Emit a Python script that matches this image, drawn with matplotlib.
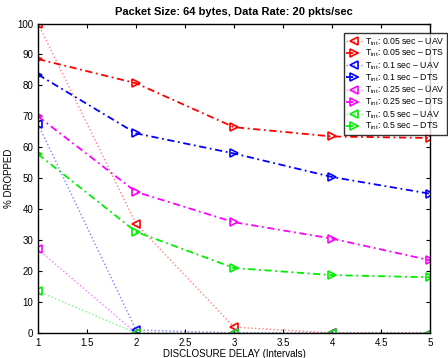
import matplotlib
matplotlib.use("Agg")
import matplotlib.pyplot as plt

plt.rcParams['font.family'] = ['Liberation Sans', 'DejaVu Sans']
plt.rcParams['mathtext.fontset'] = 'custom'
plt.rcParams['mathtext.rm'] = 'Liberation Sans'

delay = [1, 2, 3, 4, 5]
tint = ["0.05", "0.1", "0.25", "0.5"]
colors = ["#ff0000", "#0000ff", "#ff00ff", "#00ee00"]
uav = [
    [100, 35.3, 1.9, 0, 0],
    [67.5, 1.0, 0, 0, 0],
    [27, 0, 0, 0, 0],
    [13.5, 0, 0, 0, 0],
]
dts = [
    [88.5, 80.7, 66.5, 63.5, 63],
    [83.5, 64.5, 58, 50.4, 45],
    [70, 45.6, 35.8, 30.5, 23.5],
    [57.8, 32.7, 21, 18.7, 18],
]

fig = plt.figure(figsize=(4.48, 3.58), dpi=100)
ax = fig.add_axes([38/448, 1-333/358, (430-38)/448, (333-23.5)/358])

handles = []
labels = []
for i in range(4):
    l, = ax.plot(delay, uav[i], linestyle=':', color=colors[i], lw=1.0, alpha=0.5)
    m, = ax.plot(delay, uav[i], linestyle='none', marker='<', ms=6, mfc='none',
                 mec=colors[i], mew=1.2)
    h2, = ax.plot(delay, dts[i], linestyle='-.', color=colors[i], lw=1.3,
                  dashes=(4, 2, 1, 2),
                  marker='>', ms=6, mfc='none', mec=colors[i], mew=1.2)
    handles += [(l, m), h2]
    labels += [r'T$_{\rm int}$: %s sec – UAV' % tint[i],
               r'T$_{\rm int}$: %s sec – DTS' % tint[i]]

ax.set_xlim(1, 5)
ax.set_ylim(0, 100)
ax.set_xticks([1, 1.5, 2, 2.5, 3, 3.5, 4, 4.5, 5])
ax.set_xticklabels(['1', '1.5', '2', '2.5', '3', '3.5', '4', '4.5', '5'])
ax.set_yticks(range(0, 101, 10))
ax.tick_params(direction='in', labelsize=7, length=3, top=True, right=True)
for s in ax.spines.values():
    s.set_linewidth(1.0)
ax.set_xlabel('DISCLOSURE DELAY (Intervals)', fontsize=7, labelpad=1)
ax.set_ylabel('% DROPPED', fontsize=7, labelpad=2)
ax.set_title('Packet Size: 64 bytes, Data Rate: 20 pkts/sec', fontsize=8,
             fontweight='bold', pad=6)

leg = fig.legend(handles, labels,
                 loc='upper right', bbox_to_anchor=(447/448, 1-33/358),
                 fontsize=6.3, frameon=True, fancybox=False, edgecolor='black',
                 handlelength=1.8, handletextpad=0.4, borderpad=0.25,
                 labelspacing=0.02, borderaxespad=0, markerscale=0.9)
leg.get_frame().set_linewidth(1.0)

fig.savefig('out.png', dpi=100)
